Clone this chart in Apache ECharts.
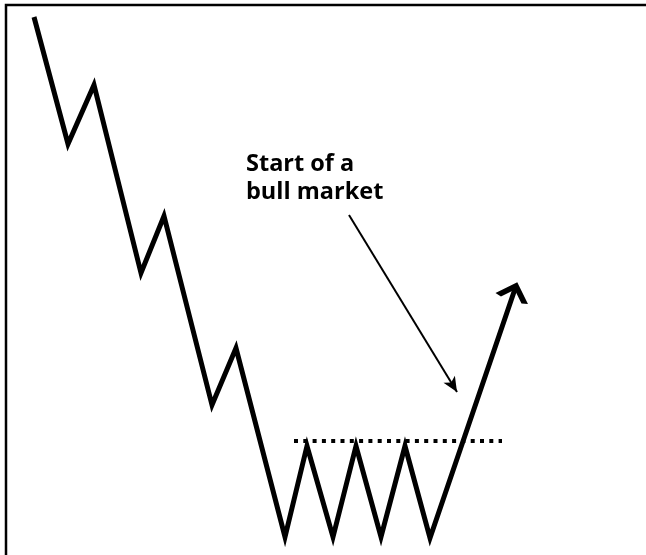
<!DOCTYPE html>
<html>
<head>
<meta charset="utf-8">
<script src="https://cdn.jsdelivr.net/npm/echarts@6/dist/echarts.min.js"></script>
<style>
html, body { margin: 0; padding: 0; background: #fff; }
#main { width: 646px; height: 555px; }
</style>
</head>
<body>
<div id="main"></div>
<script>
// 价格走势（时间, 价格）
var zigzagX = [34, 68, 94, 141, 164, 212, 236, 285, 307, 333, 356, 381, 405, 430, 516];
var zigzagY = [538, 411, 470, 282, 339, 150, 207, 18, 109, 18, 109, 18, 109, 17, 269];
// 阻力线
var resistanceX = [294, 502];
var resistanceY = [114, 114];
// 标注箭头
var noteFrom = [349, 340];
var noteTo = [457, 163];
var noteText = 'Start of a\nbull market';

(function()
{
	var mychart = echarts.init(document.getElementById('main'));

	var n = zigzagX.length;
	var dx = zigzagX[n - 1] - zigzagX[n - 2];
	var dy = zigzagY[n - 1] - zigzagY[n - 2];
	var len = Math.sqrt(dx * dx + dy * dy);
	var rot = -Math.atan2(dx, dy) * 180 / Math.PI; // 箭头方向
	var headH = 14;

	var priceData = zigzagX.map(function(x, i) {
		var item = {value: [x, zigzagY[i]], symbol: 'none'};
		if (i == n - 1) {
			item.symbol = 'path://M0,14 L14,0 L28,14';
			item.symbolSize = [28, headH];
			item.symbolRotate = rot;
			// 让尖端落在最后一点（屏幕坐标 y 向下）
			item.symbolOffset = [-dx / len * headH / 2, dy / len * headH / 2];
			item.itemStyle = {color: 'rgba(0,0,0,0)', borderColor: '#000', borderWidth: 5, borderJoin: 'miter'};
		}
		return item;
	});

	var option = {
		animation: false,
		backgroundColor: '#fff',
		grid: {left: 0, right: 0, top: 0, bottom: 0},
		xAxis: {type: 'value', min: 0, max: 646, show: false},
		yAxis: {type: 'value', min: 0, max: 555, show: false},
		title: {
			text: noteText,
			left: 241,
			top: 145,
			textStyle: {
				fontFamily: 'Open Sans',
				fontWeight: 'bold',
				fontSize: 23.5,
				lineHeight: 28,
				color: '#000'
			}
		},
		graphic: [{
			type: 'rect',
			shape: {x: 6, y: 5, width: 700, height: 600},
			style: {fill: 'none', stroke: '#000', lineWidth: 2.5},
			silent: true
		}],
		series: [
			{
				type: 'line',
				data: priceData,
				showSymbol: true,
				lineStyle: {color: '#000', width: 5, join: 'miter', miterLimit: 20, cap: 'butt'},
				z: 3
			},
			{
				type: 'line',
				data: resistanceX.map(function(x, i) { return [x, resistanceY[i]]; }),
				symbol: 'none',
				lineStyle: {color: '#000', width: 4, type: [4, 5.3]},
				z: 2
			},
			{
				type: 'line',
				data: [],
				markLine: {
					silent: true,
					symbol: ['none', 'arrow'],
					symbolSize: [10, 15],
					label: {show: false},
					lineStyle: {color: '#000', width: 2, type: 'solid'},
					data: [[{coord: noteFrom}, {coord: noteTo}]]
				}
			}
		]
	};
	mychart.setOption(option);
})();
</script>
</body>
</html>
